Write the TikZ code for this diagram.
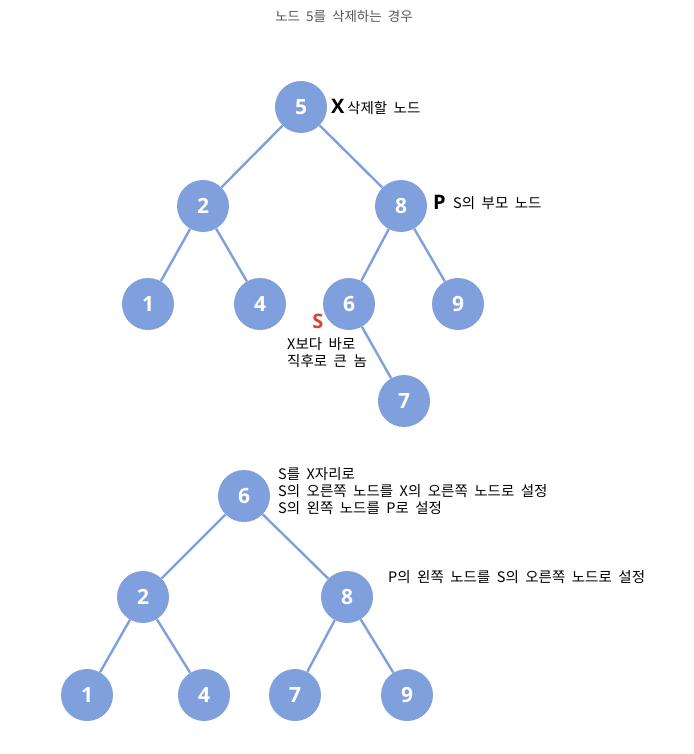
\documentclass[tikz,border=0pt]{standalone}
\usepackage{fontspec}
\setmainfont{Open Sans}
\newfontfamily\kr[WordSpace=2.0]{Noto Sans CJK KR}
\usetikzlibrary{positioning}

\definecolor{nodeblue}{RGB}{127,160,220}
\definecolor{sred}{RGB}{214,68,52}
\definecolor{titlegray}{RGB}{85,85,85}

\tikzset{
	tnode/.style={circle, fill=nodeblue, minimum size=52pt, inner sep=0pt, text=white, font=\fontsize{21}{21}\selectfont\bfseries},
	tedge/.style={draw=nodeblue, line width=2.4pt},
	note/.style={font=\kr\fontsize{14.5}{17}\selectfont, align=left, inner sep=0pt, anchor=west},
	tag/.style={font=\fontsize{20}{20}\selectfont\bfseries, inner sep=0pt, anchor=west}
}

\begin{document}
\begin{tikzpicture}[x=1pt, y=-1pt]
	\useasboundingbox (0,0) rectangle (693,754);

	\node[font=\kr\fontsize{13.5}{15}\selectfont, text=titlegray] (title) at (344,16) {노드 5를 삭제하는 경우};

	% before deletion
	\begin{scope}
	\node[tnode] (a5) at (301,107) {5};
	\node[tnode] (a2) at (203,206) {2};
	\node[tnode] (a8) at (401,206) {8};
	\node[tnode] (a1) at (148,304) {1};
	\node[tnode] (a4) at (260,304) {4};
	\node[tnode] (a6) at (349,304) {6};
	\node[tnode] (a9) at (458,304) {9};
	\node[tnode] (a7) at (404,401) {7};

	\draw[tedge] (a5) -- (a2);
	\draw[tedge] (a5) -- (a8);
	\draw[tedge] (a2) -- (a1);
	\draw[tedge] (a2) -- (a4);
	\draw[tedge] (a8) -- (a6);
	\draw[tedge] (a8) -- (a9);
	\draw[tedge] (a6) -- (a7);

	\node[tag] (xtag) at (331,106) {X};
	\node[note] (xnote) at (347,108) {삭제할 노드};
	\node[tag] (ptag) at (433,202) {P};
	\node[note] (pnote) at (453,203) {S의 부모 노드};
	\node[tag, text=sred, anchor=center] (stag) at (318,321) {S};
	\node[note] (snote) at (287,353) {X보다 바로\\직후로 큰 놈};
	\end{scope}

	% after deletion
	\begin{scope}
	\node[tnode] (b6) at (244,496) {6};
	\node[tnode] (b2) at (143,597) {2};
	\node[tnode] (b8) at (347,597) {8};
	\node[tnode] (b1) at (87,695) {1};
	\node[tnode] (b4) at (204,695) {4};
	\node[tnode] (b7) at (295,695) {7};
	\node[tnode] (b9) at (407,695) {9};

	\draw[tedge] (b6) -- (b2);
	\draw[tedge] (b6) -- (b8);
	\draw[tedge] (b2) -- (b1);
	\draw[tedge] (b2) -- (b4);
	\draw[tedge] (b8) -- (b7);
	\draw[tedge] (b8) -- (b9);

	\node[note] (step1) at (278,491) {S를 X자리로\\S의 오른쪽 노드를 X의 오른쪽 노드로 설정\\S의 왼쪽 노드를 P로 설정};
	\node[note] (step2) at (388,577) {P의 왼쪽 노드를 S의 오른쪽 노드로 설정};
	\end{scope}
\end{tikzpicture}
\end{document}
